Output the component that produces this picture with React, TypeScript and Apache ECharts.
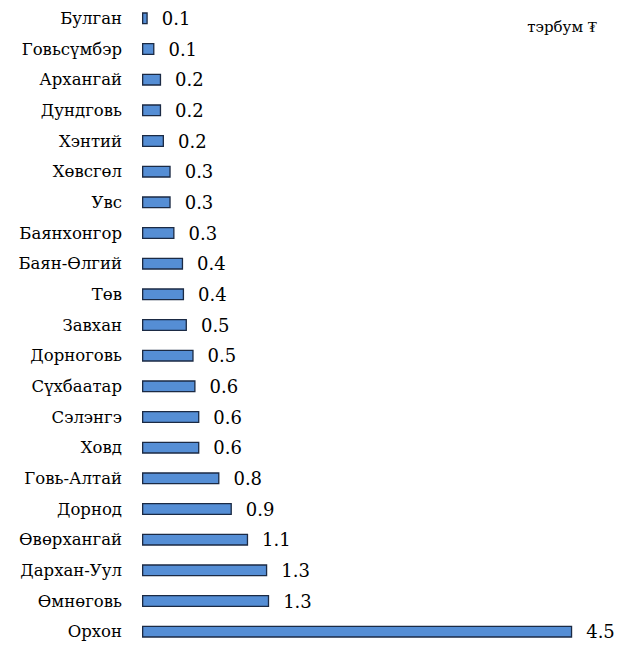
import React, { useEffect, useRef } from "react";
import * as echarts from "echarts";

const categories = [
  "Булган", "Говьсүмбэр", "Архангай", "Дундговь", "Хэнтий", "Хөвсгөл", "Увс",
  "Баянхонгор", "Баян-Өлгий", "Төв", "Завхан", "Дорноговь", "Сүхбаатар", "Сэлэнгэ",
  "Ховд", "Говь-Алтай", "Дорнод", "Өвөрхангай", "Дархан-Уул", "Өмнөговь", "Орхон",
];
const values = [
  0.06, 0.13, 0.2, 0.2, 0.23, 0.3, 0.3,
  0.34, 0.43, 0.44, 0.47, 0.54, 0.56, 0.6,
  0.6, 0.81, 0.94, 1.11, 1.31, 1.33, 4.5,
];
const unitLabel = "тэрбум ₮";

const FONT = "DejaVu Serif";

export default function App() {
  const ref = useRef<HTMLDivElement>(null);
  useEffect(() => {
    if (!ref.current) return;
    const chart = echarts.init(ref.current, undefined, { renderer: "svg" });
    chart.setOption({
      animation: false,
      grid: { left: 142, width: 478, top: 3, height: 645, containLabel: false },
      xAxis: {
        type: "value",
        min: 0,
        max: 5,
        show: false,
      },
      yAxis: {
        type: "category",
        inverse: true,
        data: categories,
        axisLine: { show: false },
        axisTick: { show: false },
        splitLine: { show: false },
        axisLabel: {
          margin: 20,
          color: "#000",
          fontFamily: FONT,
          fontSize: 16.5,
        },
      },
      graphic: [
        {
          type: "text",
          right: 33,
          top: 19,
          style: { text: unitLabel, fill: "#000", fontFamily: FONT, fontSize: 15 },
        },
      ],
      series: [
        {
          type: "bar",
          data: values,
          barWidth: 12,
          itemStyle: { color: "#558ED5", borderColor: "#1B2A44", borderWidth: 1.3 },
          label: {
            show: true,
            position: "right",
            distance: 14,
            color: "#000",
            fontFamily: FONT,
            fontSize: 18,
            formatter: (p: any) => (Math.round(p.value * 10) / 10).toFixed(1),
          },
        },
      ],
    });
    return () => chart.dispose();
  }, []);
  return (
    <div
      ref={ref}
      style={{ position: "absolute", left: 0, top: 0, width: 630, height: 647, background: "#fff" }}
    />
  );
}
